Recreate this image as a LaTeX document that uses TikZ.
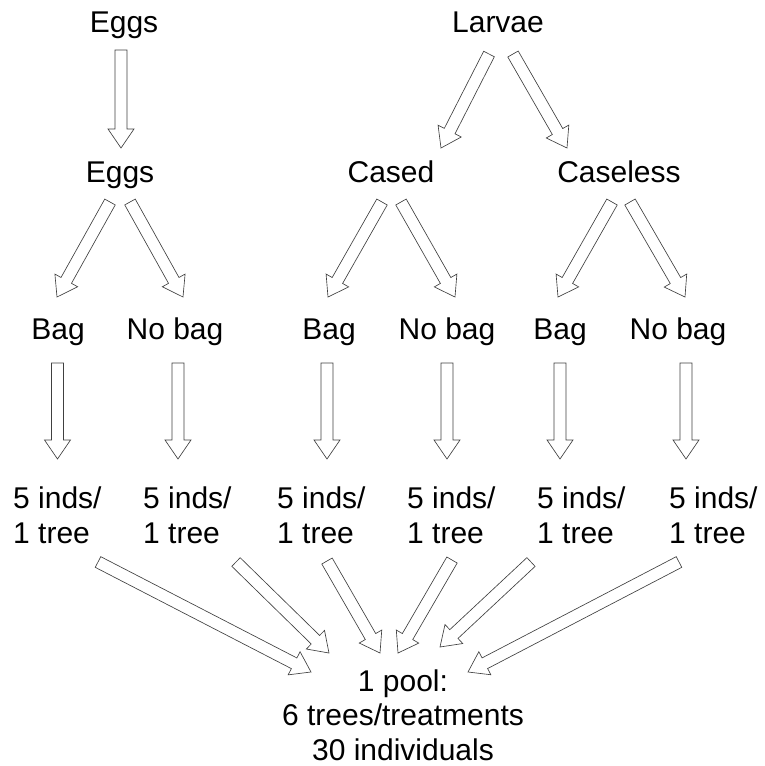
\documentclass[tikz,border=0pt]{standalone}
\usepackage{fontspec}
\setmainfont{Liberation Sans}
\usetikzlibrary{calc}
\tikzset{
  lbl/.style={inner sep=0pt, font=\fontsize{30}{35}\selectfont, anchor=base},
  mlbl/.style={inner sep=0pt, font=\fontsize{30}{35}\selectfont, align=left, anchor=base west},
  poollbl/.style={inner sep=0pt, font=\fontsize{30}{34.5}\selectfont, align=center, anchor=base},
  barrow/.style={draw=black!75, line width=0.65pt, fill=white, line join=miter},
}
% block arrow from tail centre #1 to tip #2
\newcommand\blockarr[2]{%
  \coordinate (bah) at ($(#2)!19pt!(#1)$);
  \draw[barrow] ($(#1)!6pt!90:(#2)$) -- ($(bah)!6pt!-90:(#1)$) -- ($(bah)!13pt!-90:(#1)$)
    -- (#2) -- ($(bah)!13pt!90:(#1)$) -- ($(bah)!6pt!90:(#1)$) -- ($(#1)!6pt!-90:(#2)$) -- cycle;
}
\begin{document}
\begin{tikzpicture}[x=1pt,y=-1pt]
\useasboundingbox (0,0) rectangle (764,766);
% labels
\node[lbl] (eggs0) at (124,32) {Eggs};
\node[lbl] (larvae) at (498,32) {Larvae};
\node[lbl] (eggs1) at (120,182) {Eggs};
\node[lbl] (cased) at (391,182) {Cased};
\node[lbl] (caseless) at (619,182) {Caseless};
\node[lbl] (bag1) at (58,339) {Bag};
\node[lbl] (nobag1) at (175,339) {No bag};
\node[lbl] (bag2) at (329,339) {Bag};
\node[lbl] (nobag2) at (447,339) {No bag};
\node[lbl] (bag3) at (560,339) {Bag};
\node[lbl] (nobag3) at (678,339) {No bag};
\node[mlbl] (ind1) at (13,543) {5 inds/\\1 tree};
\node[mlbl] (ind2) at (143,543) {5 inds/\\1 tree};
\node[mlbl] (ind3) at (277,543) {5 inds/\\1 tree};
\node[mlbl] (ind4) at (407,543) {5 inds/\\1 tree};
\node[mlbl] (ind5) at (537,543) {5 inds/\\1 tree};
\node[mlbl] (ind6) at (669,543) {5 inds/\\1 tree};
\node[poollbl] (pool) at (403,760) {1 pool:\\6 trees/treatments\\30 individuals};
% arrow end points
\coordinate (t0) at (121,50);   \coordinate (h0) at (121,148);
\coordinate (tl1) at (489,54);  \coordinate (hl1) at (441,148);
\coordinate (tl2) at (513,54);  \coordinate (hl2) at (567,148);
\coordinate (te1) at (110,202); \coordinate (he1) at (57,297);
\coordinate (te2) at (130,202); \coordinate (he2) at (183,297);
\coordinate (tc1) at (382,202); \coordinate (hc1) at (328,297);
\coordinate (tc2) at (401,202); \coordinate (hc2) at (455,297);
\coordinate (ts1) at (612,202); \coordinate (hs1) at (558,297);
\coordinate (ts2) at (630,202); \coordinate (hs2) at (685,297);
\foreach \i/\x in {1/57.5,2/178,3/327,4/447,5/560,6/686}{
  \coordinate (tv\i) at (\x,363); \coordinate (hv\i) at (\x,459);
}
\coordinate (tb1) at (98,562);  \coordinate (hb1) at (311,672);
\coordinate (tb2) at (236,562); \coordinate (hb2) at (329,653);
\coordinate (tb3) at (327,561); \coordinate (hb3) at (380,653);
\coordinate (tb4) at (452,560); \coordinate (hb4) at (398,653);
\coordinate (tb5) at (531,562); \coordinate (hb5) at (440,647);
\coordinate (tb6) at (679,562); \coordinate (hb6) at (468,672);
% arrows
\blockarr{t0}{h0}
\blockarr{tl1}{hl1}
\blockarr{tl2}{hl2}
\blockarr{te1}{he1}
\blockarr{te2}{he2}
\blockarr{tc1}{hc1}
\blockarr{tc2}{hc2}
\blockarr{ts1}{hs1}
\blockarr{ts2}{hs2}
\foreach \i in {1,...,6}{\blockarr{tv\i}{hv\i}}
\foreach \i in {1,...,6}{\blockarr{tb\i}{hb\i}}
\end{tikzpicture}
\end{document}
